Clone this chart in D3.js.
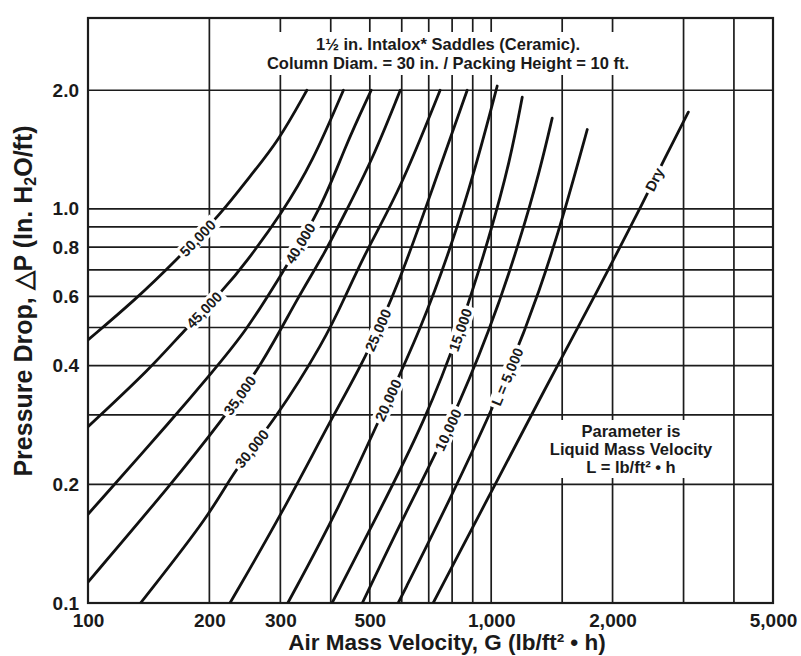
<!DOCTYPE html>
<html><head><meta charset="utf-8">
<script src="https://cdn.jsdelivr.net/npm/d3@7"></script>
<style>
html,body{margin:0;padding:0;background:#fff;}
svg{display:block;}
text{font-family:"Liberation Sans",Arial,Helvetica,sans-serif;font-weight:bold;fill:#1a1a1a;}
</style></head><body>
<svg id="chart" width="801" height="656"></svg>
<script>
// ---- data: [G (lb/ft2 h), dP (in H2O/ft)] ----
const L50000 = [[100,0.465],[131,0.588],[164,0.734],[215,0.977],[252,1.21],[296,1.48],[349,2.0]];
const L45000 = [[100,0.28],[144,0.397],[171,0.485],[219,0.63],[245,0.725],[303,0.977],[360,1.31],[430,2.0]];
const L40000 = [[100,0.168],[164,0.297],[203,0.385],[245,0.485],[296,0.66],[381,1.01],[434,1.44],[504,2.0]];
const L35000 = [[100,0.113],[162,0.202],[215,0.291],[270,0.402],[332,0.598],[387,0.773],[434,0.977],[507,1.33],[595,2.0]];
const L30000 = [[135,0.1],[203,0.17],[228,0.214],[291,0.291],[387,0.465],[434,0.598],[495,0.80],[595,1.12],[747,2.0]];
const L25000 = [[225,0.1],[303,0.169],[403,0.296],[486,0.414],[595,0.66],[714,1.12],[872,2.0]];
const L20000 = [[313,0.1],[417,0.172],[555,0.327],[667,0.493],[791,0.787],[913,1.26],[1035,2.05]];
const L15000 = [[403,0.1],[530,0.172],[686,0.291],[838,0.493],[994,0.859],[1115,1.33],[1194,1.92]];
const L10000 = [[479,0.1],[612,0.169],[782,0.275],[994,0.493],[1180,0.834],[1323,1.26],[1417,1.70]];
const L5000  = [[588,0.1],[791,0.183],[1096,0.375],[1323,0.623],[1526,0.994],[1731,1.59]];
const Dry    = [[718,0.1],[1023,0.2],[1401,0.37],[1553,0.45],[1996,0.73],[2370,1.03],[2672,1.32],[3083,1.76]];

const seriesNames = ["50,000","45,000","40,000","35,000","30,000","25,000","20,000","15,000","10,000","L = 5,000","Dry"];
const seriesData  = [L50000,L45000,L40000,L35000,L30000,L25000,L20000,L15000,L10000,L5000,Dry];
const labelAtG    = [187,194,336,238,255,524,555,838,782,1096,2539];

const xTickLabels = [100,200,300,500,1000,2000,5000];
const xGridValues = [200,300,400,500,600,700,800,900,1000,1500,2000,3000,4000];
const yTickLabels = [0.1,0.2,0.4,0.6,0.8,1.0,2.0];
const yGridValues = [0.2,0.3,0.4,0.5,0.6,0.7,0.8,0.9,1.0,2.0];

const titleLines = ["1\u00BD in. Intalox* Saddles (Ceramic).","Column Diam. = 30 in. / Packing Height = 10 ft."];
const noteLines  = ["Parameter is","Liquid Mass Velocity","L = lb/ft\u00B2 \u2022 h"];

// ---- layout ----
const svg = d3.select("#chart");
const pL=88,pR=773,pT=18,pB=603;
const x = d3.scaleLog().domain([100,5000]).range([pL,pR]);
const y = d3.scaleLog().domain([0.1,3.05]).range([pB,pT]);
const ink = "#1c1c1c";

svg.append("rect").attr("width",801).attr("height",656).attr("fill","#fff");

svg.append("defs").append("clipPath").attr("id","plot")
  .append("rect").attr("x",pL).attr("y",pT).attr("width",pR-pL).attr("height",pB-pT);

// grid
const grid = svg.append("g").attr("stroke",ink).attr("stroke-width",1.7);
grid.selectAll("line.v").data(xGridValues).join("line").attr("class","v")
  .attr("x1",d=>x(d)).attr("x2",d=>x(d)).attr("y1",y.range()[0]).attr("y2",y.range()[1]);
grid.selectAll("line.h").data(yGridValues).join("line").attr("class","h")
  .attr("y1",d=>y(d)).attr("y2",d=>y(d)).attr("x1",pL).attr("x2",pR);

// title block (white backing breaks the grid)
const tg = svg.append("g");
const tText = tg.append("text").attr("text-anchor","middle").attr("font-size",16.5);
tText.selectAll("tspan").data(titleLines).join("tspan")
  .attr("x",448).attr("y",(d,i)=>50+i*19).text(d=>d);
const tb = tText.node().getBBox();
tg.insert("rect","text").attr("x",tb.x-5).attr("y",tb.y-3).attr("width",tb.width+10).attr("height",tb.height+6).attr("fill","#fff");

// parameter note
const ng = svg.append("g");
const nText = ng.append("text").attr("text-anchor","middle").attr("font-size",16.5);
nText.selectAll("tspan").data(noteLines).join("tspan")
  .attr("x",631).attr("y",(d,i)=>437+i*18).text(d=>d);
const nb = nText.node().getBBox();
ng.insert("rect","text").attr("x",nb.x-3).attr("y",nb.y-2).attr("width",nb.width+6).attr("height",nb.height+4).attr("fill","#fff");

// frame
svg.append("rect").attr("x",pL).attr("y",pT).attr("width",pR-pL).attr("height",pB-pT)
  .attr("fill","none").attr("stroke",ink).attr("stroke-width",2.2);

// curves
const line = d3.line().x(d=>x(d[0])).y(d=>y(d[1])).curve(d3.curveBasis);
svg.append("g").attr("clip-path","url(#plot)")
  .selectAll("path").data(seriesData).join("path")
  .attr("d",line).attr("fill","none").attr("stroke","#111").attr("stroke-width",2.8)
  .attr("stroke-linecap","round");

// curve labels
function pAt(pts,g){
  const lg=Math.log10(g);
  let i=0;
  while(i<pts.length-2 && Math.log10(pts[i+1][0])<lg) i++;
  const a=pts[i],b=pts[i+1];
  const t=(lg-Math.log10(a[0]))/(Math.log10(b[0])-Math.log10(a[0]));
  return Math.pow(10,Math.log10(a[1])+t*(Math.log10(b[1])-Math.log10(a[1])));
}
seriesData.forEach((pts,k)=>{
  const g=labelAtG[k];
  const g1=g/1.07,g2=g*1.07;
  const ang=Math.atan2(y(pAt(pts,g2))-y(pAt(pts,g1)), x(g2)-x(g1))*180/Math.PI;
  const lg=svg.append("g").attr("transform",`translate(${x(g)},${y(pAt(pts,g))}) rotate(${ang})`);
  const t=lg.append("text").attr("text-anchor","middle").attr("dy","0.36em").attr("font-size",14.5).text(seriesNames[k]);
  const b=t.node().getBBox();
  lg.insert("rect","text").attr("x",b.x-3).attr("y",b.y).attr("width",b.width+6).attr("height",b.height).attr("fill","#fff");
});

// axes (tick labels only)
const gx = svg.append("g").attr("transform",`translate(0,${pB})`)
  .call(d3.axisBottom(x).tickValues(xTickLabels).tickFormat(d3.format(",")).tickSize(0).tickPadding(11));
gx.select(".domain").remove();
gx.selectAll("text").attr("font-size",19);

const gy = svg.append("g").attr("transform",`translate(${pL},0)`)
  .call(d3.axisLeft(y).tickValues(yTickLabels).tickFormat(d3.format(".1f")).tickSize(0).tickPadding(9));
gy.select(".domain").remove();
gy.selectAll("text").attr("font-size",19);

// axis titles
const xt = svg.append("text").attr("x",447).attr("y",650).attr("text-anchor","middle").attr("font-size",22.5);
xt.append("tspan").text("Air Mass Velocity, G (lb/ft\u00B2 \u2022 h)");

const yt = svg.append("text").attr("transform","translate(32,301) rotate(-90)").attr("text-anchor","middle").attr("font-size",25);
yt.append("tspan").text("Pressure Drop, \u25B3P (In. H");
yt.append("tspan").attr("font-size",16).attr("dy",4).text("2");
yt.append("tspan").attr("dy",-4).text("O/ft)");
</script>
</body></html>
